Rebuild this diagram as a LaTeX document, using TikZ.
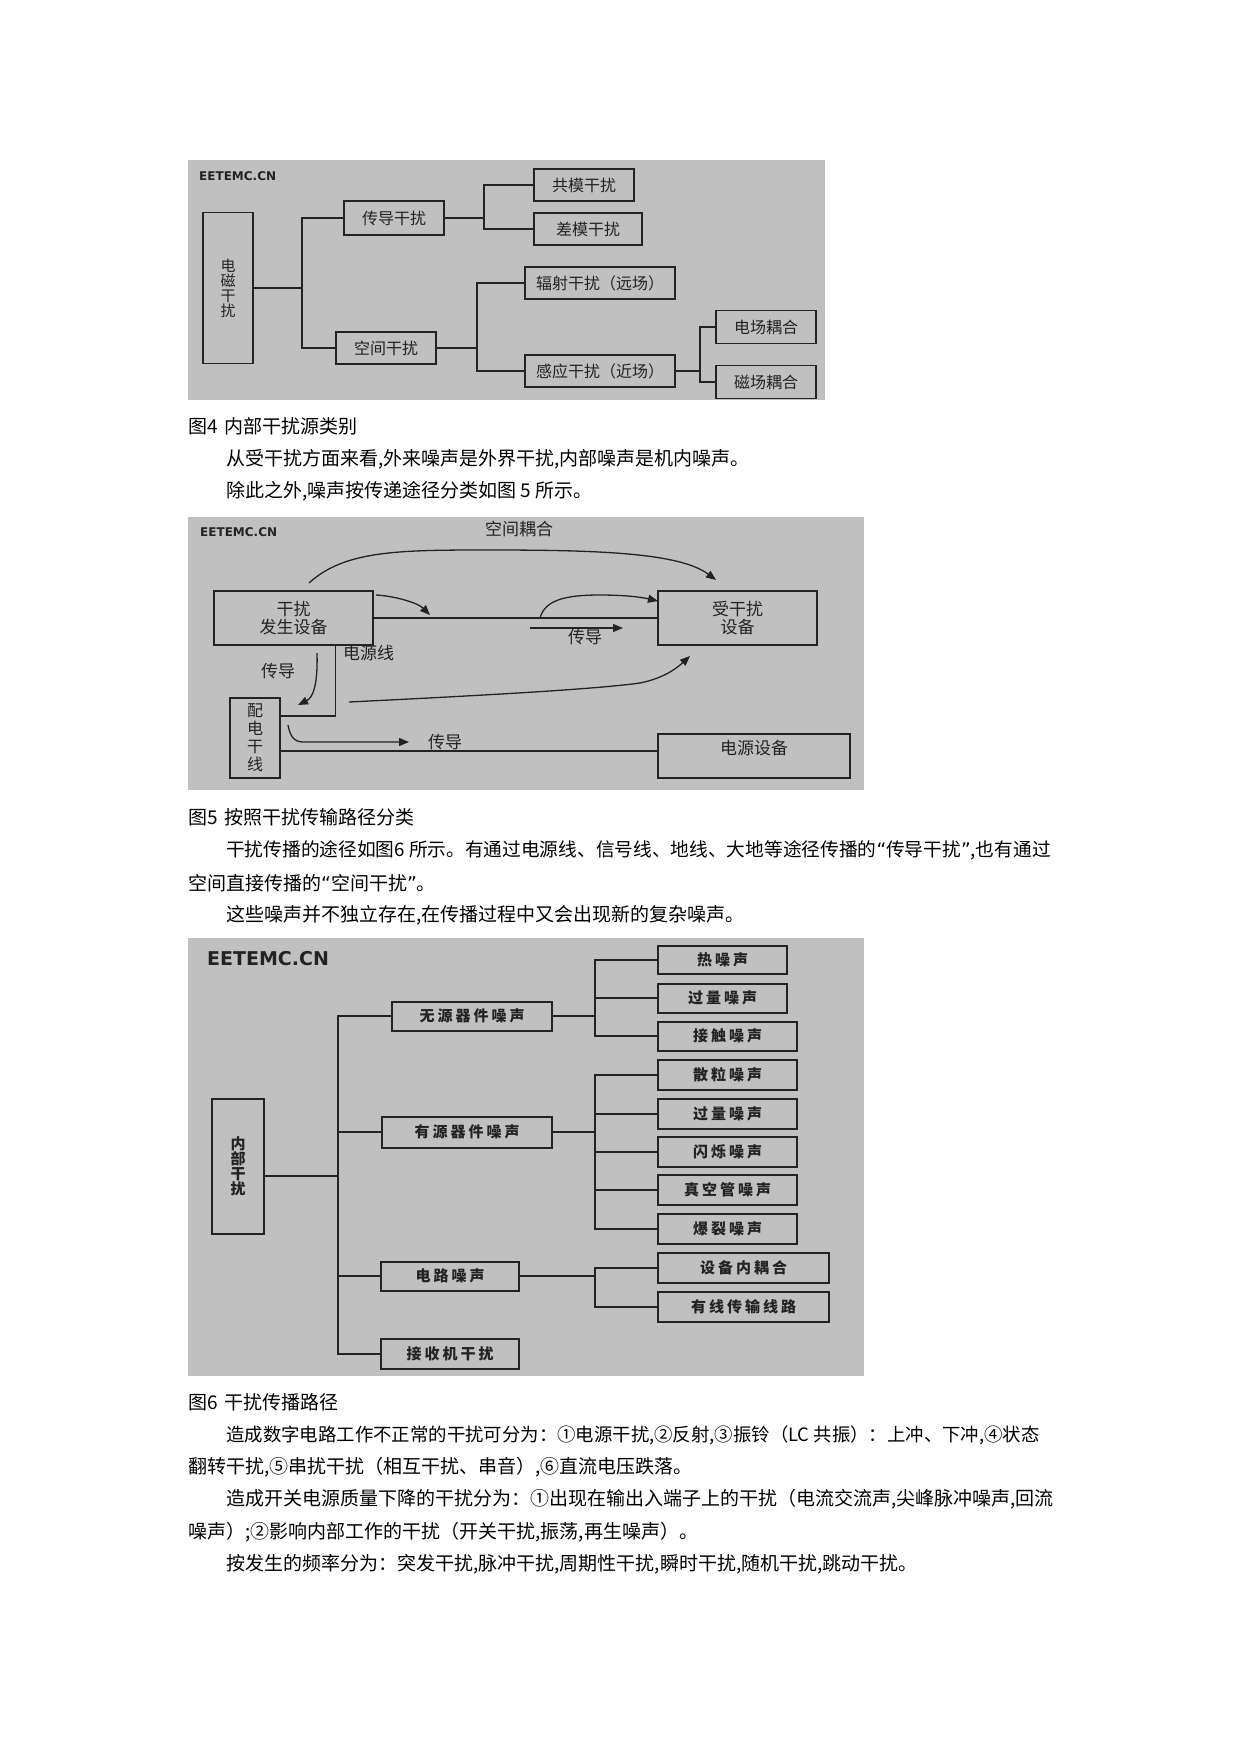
\documentclass[tikz,border=0pt]{standalone}
\usepackage{fontspec}
\setmainfont{Noto Sans CJK SC}
\newfontfamily\logofont{DejaVu Sans}
\newfontfamily\quotefont{DejaVu Sans}
\newfontfamily\spacedfont[LetterSpace=20]{Noto Sans CJK SC}
\usetikzlibrary{arrows.meta}
\definecolor{panel}{RGB}{192,192,192}
\definecolor{ink}{RGB}{35,35,35}
\newcommand{\qopen}{{\quotefont “}}
\newcommand{\qclose}{{\quotefont ”}}
\begin{document}
\begin{tikzpicture}[x=1pt,y=-1pt,>={Triangle[length=10pt,width=8pt]},
  boxa/.style={draw=ink, line width=1.4pt, inner sep=0pt, text=ink, align=center, font=\fontsize{16}{16}\selectfont},
  boxb/.style={draw=ink, line width=1.3pt, inner sep=0pt, text=ink, align=center, font=\fontsize{17}{18}\selectfont},
  boxc/.style={draw=ink, line width=2pt, inner sep=0pt, text=ink, align=center, font=\spacedfont\bfseries\fontsize{15}{15}\selectfont},
  wire/.style={draw=ink, line width=1.3pt},
  lbl/.style={inner sep=0pt, text=ink, font=\fontsize{17}{17}\selectfont},
  logo/.style={inner sep=0pt, anchor=west, text=ink, font=\logofont\bfseries\fontsize{12}{12}\selectfont},
  para/.style={inner sep=0pt, anchor=west, font=\fontsize{19}{19}\selectfont}]
\useasboundingbox (0,0) rectangle (1241,1754);
\fill[white] (0,0) rectangle (1241,1754);

\fill[panel] (188,160) rectangle (825,400);
\node[logo] (logoa) at (199,176) {EETEMC.CN};
\node[boxa, minimum width=50pt, minimum height=151pt, font=\fontsize{15}{15}\selectfont] (emi) at (228,288) {电\\磁\\干\\扰};
\node[boxa, minimum width=100pt, minimum height=34pt] (cd) at (394,218) {传导干扰};
\node[boxa, minimum width=100pt, minimum height=32pt] (kj) at (386,348) {空间干扰};
\node[boxa, minimum width=100pt, minimum height=32pt] (gm) at (584,185) {共模干扰};
\node[boxa, minimum width=108pt, minimum height=32pt] (cm) at (588,229) {差模干扰};
\node[boxa, minimum width=150pt, minimum height=32pt] (fs) at (600,283) {辐射干扰（远场）};
\node[boxa, minimum width=150pt, minimum height=32pt] (gy) at (600,371) {感应干扰（近场）};
\node[boxa, minimum width=100pt, minimum height=33pt] (dc) at (766,327) {电场耦合};
\node[boxa, minimum width=100pt, minimum height=33pt] (cc) at (766,382) {磁场耦合};
\coordinate (ja) at (302,0);
\coordinate (jb) at (484,0);
\coordinate (jc) at (477,0);
\coordinate (jd) at (700,0);
\draw[wire] (emi.east) -- (emi.east -| ja);
\draw[wire] (cd.west) -- (cd.west -| ja) -- (kj.west -| ja) -- (kj.west);
\draw[wire] (cd.east) -- (cd.east -| jb);
\draw[wire] (gm.west) -- (gm.west -| jb) -- (cm.west -| jb) -- (cm.west);
\draw[wire] (kj.east) -- (kj.east -| jc);
\draw[wire] (fs.west) -- (fs.west -| jc) -- (gy.west -| jc) -- (gy.west);
\draw[wire] (gy.east) -- (gy.east -| jd);
\draw[wire] (dc.west) -- (dc.west -| jd) -- (cc.west -| jd) -- (cc.west);

\node[para] (t1) at (188,426) {图4\hspace{7pt}内部干扰源类别};
\node[para] (t2) at (226,459) {从受干扰方面来看,外来噪声是外界干扰,内部噪声是机内噪声。};
\node[para] (t3) at (226,491) {除此之外,噪声按传递途径分类如图 5 所示。};

\fill[panel] (188,517) rectangle (864,790);
\node[logo] (logob) at (200,532) {EETEMC.CN};
\node[boxb, minimum width=159pt, minimum height=54pt] (gen) at (293.5,618) {干扰\\发生设备};
\node[boxb, minimum width=159pt, minimum height=54pt] (recv) at (737.5,618) {受干扰\\设备};
\node[boxb, minimum width=50pt, minimum height=80pt, font=\fontsize{16}{18}\selectfont] (pd) at (255,738) {配\\电\\干\\线};
\node[boxb, minimum width=192pt, minimum height=44pt, text height=13pt, text depth=17pt] (ps) at (754,756) {电源设备};
\draw[wire] (gen.east) -- (recv.west);
\draw[wire] ([xshift=42pt]gen.south) |- ([yshift=22pt]pd.east);
\draw[wire] ([yshift=-13pt]pd.east) -- ([yshift=-13pt]pd.east -| ps.west);
\coordinate (ka) at (309,583);
\coordinate (kb) at (716,580);
\coordinate (kc) at (376,595);
\coordinate (kd) at (430,615);
\coordinate (ke) at (540,618);
\coordinate (kf) at (658,601);
\coordinate (kg) at (530,628);
\coordinate (kh) at (623,628);
\coordinate (ki) at (317,653);
\coordinate (kk) at (298,705);
\coordinate (kl) at (349,702);
\coordinate (km) at (690,656);
\coordinate (kn) at (288,725);
\coordinate (ko) at (409,742);
\draw[wire, ->] (ka) .. controls (345,550) and (400,550) .. (491,550) .. controls (600,550) and (680,553) .. (kb);
\draw[wire, ->] (kc) .. controls (395,596) and (418,603) .. (kd);
\draw[wire, ->] (ke) .. controls (545,600) and (565,595) .. (600,595) .. controls (630,595) and (645,598) .. (kf);
\draw[wire, ->] (kg) -- (kh);
\draw[wire, ->] (ki) .. controls (318,688) and (312,698) .. (kk);
\draw[wire, ->] (kl) .. controls (450,697) and (590,690) .. (640,683) .. controls (665,678) and (678,667) .. (km);
\draw[wire, ->] (kn) .. controls (290,736) and (294,742) .. (303,742) -- (ko);
\node[lbl] (lkj) at (519,529) {空间耦合};
\node[lbl, anchor=west] (ldy) at (343,653) {电源线};
\node[lbl] (lcda) at (278,671) {传导};
\node[lbl] (lcdb) at (585,637) {传导};
\node[lbl] (lcdc) at (445,742) {传导};

\node[para] (t4) at (188,817) {图5\hspace{7pt}按照干扰传输路径分类};
\node[para, font=\fontsize{18.7}{19}\selectfont] (t5) at (226,850) {干扰传播的途径如图6 所示。有通过电源线、信号线、地线、大地等途径传播的\qopen 传导干扰\qclose,也有通过};
\node[para] (t6) at (188,883) {空间直接传播的\qopen 空间干扰\qclose。};
\node[para] (t7) at (226,915) {这些噪声并不独立存在,在传播过程中又会出现新的复杂噪声。};

\fill[panel] (188,938) rectangle (864,1376);
\node[logo, font=\logofont\bfseries\fontsize{19}{19}\selectfont] (logoc) at (207,959) {EETEMC.CN};
\node[boxc, minimum width=52pt, minimum height=135pt, font=\bfseries\fontsize{15}{15}\selectfont] (nb) at (238,1166) {内\\部\\干\\扰};
\node[boxc, minimum width=160pt, minimum height=29pt] (wy) at (472,1016) {无源器件噪声};
\node[boxc, minimum width=170pt, minimum height=31pt] (yy) at (467,1132) {有源器件噪声};
\node[boxc, minimum width=138pt, minimum height=29pt] (dl) at (450,1276) {电路噪声};
\node[boxc, minimum width=138pt, minimum height=30pt] (js) at (450,1354) {接收机干扰};
\node[boxc, minimum width=129pt, minimum height=28pt] (ra) at (722.5,959.5) {热噪声};
\node[boxc, minimum width=129pt, minimum height=29pt] (rb) at (722.5,998) {过量噪声};
\node[boxc, minimum width=139pt, minimum height=29pt] (rc) at (727.5,1036) {接触噪声};
\node[boxc, minimum width=139pt, minimum height=30pt] (sa) at (727.5,1075) {散粒噪声};
\node[boxc, minimum width=139pt, minimum height=30pt] (sb) at (727.5,1113.5) {过量噪声};
\node[boxc, minimum width=139pt, minimum height=30pt] (sc) at (727.5,1151.5) {闪烁噪声};
\node[boxc, minimum width=139pt, minimum height=30pt] (sd) at (727.5,1190) {真空管噪声};
\node[boxc, minimum width=139pt, minimum height=30pt] (se) at (727.5,1228.5) {爆裂噪声};
\node[boxc, minimum width=171pt, minimum height=30pt] (ua) at (743.5,1268) {设备内耦合};
\node[boxc, minimum width=171pt, minimum height=30pt] (ub) at (743.5,1306.5) {有线传输线路};
\coordinate (jm) at (338,0);
\coordinate (jn) at (595,0);
\draw[wire, line width=2pt] ([yshift=-10pt]nb.east) -- ([yshift=-10pt]nb.east -| jm);
\draw[wire, line width=2pt] (wy.west) -- (wy.west -| jm) -- (js.west -| jm) -- (js.west);
\draw[wire, line width=2pt] (yy.west) -- (yy.west -| jm);
\draw[wire, line width=2pt] (dl.west) -- (dl.west -| jm);
\draw[wire, line width=2pt] (wy.east) -- (wy.east -| jn);
\draw[wire, line width=2pt] (ra.west) -- (ra.west -| jn) -- (rc.west -| jn) -- (rc.west);
\draw[wire, line width=2pt] (rb.west) -- (rb.west -| jn);
\draw[wire, line width=2pt] (yy.east) -- (yy.east -| jn);
\draw[wire, line width=2pt] (sa.west) -- (sa.west -| jn) -- (se.west -| jn) -- (se.west);
\draw[wire, line width=2pt] (sb.west) -- (sb.west -| jn);
\draw[wire, line width=2pt] (sc.west) -- (sc.west -| jn);
\draw[wire, line width=2pt] (sd.west) -- (sd.west -| jn);
\draw[wire, line width=2pt] (dl.east) -- (dl.east -| jn);
\draw[wire, line width=2pt] (ua.west) -- (ua.west -| jn) -- (ub.west -| jn) -- (ub.west);

\node[para] (t8) at (188,1402) {图6\hspace{7pt}干扰传播路径};
\node[para, font=\fontsize{18.4}{19}\selectfont] (t9) at (226,1435) {造成数字电路工作不正常的干扰可分为：①电源干扰,②反射,③振铃（LC 共振）：上冲、下冲,④状态};
\node[para] (t10) at (188,1467) {翻转干扰,⑤串扰干扰（相互干扰、串音）,⑥直流电压跌落。};
\node[para] (t11) at (226,1499) {造成开关电源质量下降的干扰分为：①出现在输出入端子上的干扰（电流交流声,尖峰脉冲噪声,回流};
\node[para] (t12) at (188,1532) {噪声）;②影响内部工作的干扰（开关干扰,振荡,再生噪声）。};
\node[para] (t13) at (226,1564) {按发生的频率分为：突发干扰,脉冲干扰,周期性干扰,瞬时干扰,随机干扰,跳动干扰。};
\end{tikzpicture}
\end{document}
